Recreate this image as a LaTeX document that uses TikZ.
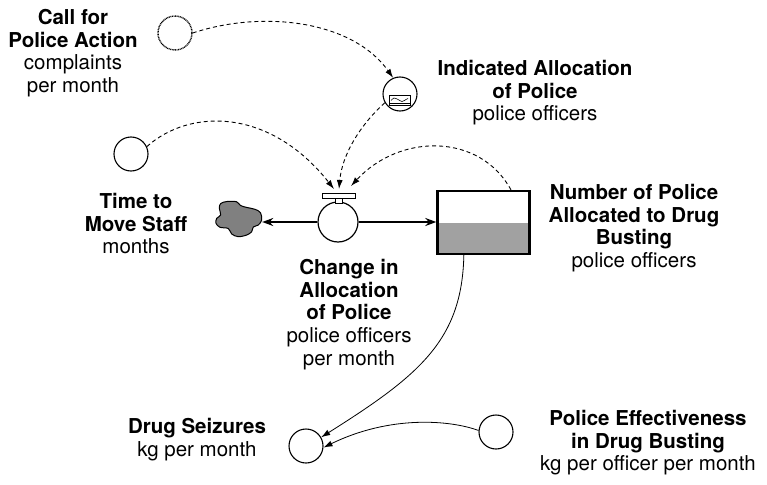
\documentclass[tikz,border=0pt]{standalone}
\usepackage{fontspec}
\setmainfont{TeX Gyre Heros}
\usetikzlibrary{arrows.meta}
\begin{document}
\begin{tikzpicture}[x=1pt,y=-1pt,
  lbl/.style={align=center,anchor=north,inner sep=0pt,font=\fontsize{20.5}{22.7}\selectfont},
  aux/.style={circle,draw,line width=1.1pt,minimum size=34pt,inner sep=0pt},
  infl/.style={dash pattern=on 4pt off 3pt,line width=0.9pt,-{Latex[length=9pt,width=6pt]}},
  link/.style={line width=0.8pt,-{Latex[length=9pt,width=6pt]}},
  flowline/.style={line width=2.6pt,-{Stealth[length=11pt,width=8pt]}}]
\useasboundingbox (0,0) rectangle (767,484);

% auxiliaries and constants
\node (call) [aux,line width=1.4pt,dash pattern=on 0.9pt off 0.7pt] at (175,33) {};
\node (ind) [aux] at (400,94) {};
\node (time) [aux] at (131,154) {};
\node (seiz) [aux] at (306,446) {};
\node (eff) [aux] at (496,432) {};

% graphical function icon inside the indicated allocation
\draw[line width=0.7pt] (389,95) rectangle (410,105);
\draw[line width=0.7pt] (389,103) -- (410,103);
\draw[line width=0.6pt] plot[smooth] coordinates {(391,100.5) (394,98) (398,99.5) (402,101.5) (406,99.5) (408,98.5)};

% stock
\fill[black!37] (438,223) rectangle (529,254);
\node (stock) [draw,line width=2.4pt,minimum width=92pt,minimum height=63pt,inner sep=0pt] at (483.5,222.5) {};

% source cloud
\node (cloud) [minimum width=46pt,minimum height=36pt,inner sep=0pt] at (239,219) {};
\draw[fill=black!50,line width=1pt,line join=round]
  plot[smooth cycle,tension=0.55] coordinates {
    (220.7,203.5) (227,201.5) (236.5,201.7) (240.5,205.5) (247,207.5) (255,209.3)
    (260.5,212.7) (261.7,220) (258.3,225) (253.3,227) (251.7,231.7) (246.7,235)
    (238.3,236.7) (231.7,234) (228.3,228.5) (220,227.3) (216,223.3) (216.7,218.3)
    (220.7,215) (219.3,208.3)};

% valve
\node (valve) [circle,draw,line width=1.2pt,minimum size=40pt,inner sep=0pt] at (338,222) {};
\node (stem) [draw,fill=white,line width=1pt,minimum width=7pt,minimum height=6pt,inner sep=0pt] at (338.5,200) {};
\node (handle) [draw,fill=white,line width=1pt,minimum width=33pt,minimum height=5pt,inner sep=0pt] at (338.5,195.5) {};
\coordinate (tipA) at (334,189);
\coordinate (tipB) at (339,189);
\coordinate (tipC) at (351,186);

% flows
\draw[flowline] (valve.west) -- (cloud.east |- valve.west);
\draw[flowline] (valve.east) -- (stock.west |- valve.east);

% influences
\draw[infl] (call.east) .. controls (262,10) and (352,20) .. (ind.113);
\draw[infl] (time.25) .. controls (190,108) and (270,108) .. (tipA);
\draw[infl] (ind.210) .. controls (360,125) and (342,155) .. (tipB);
\draw[infl] (stock.50) .. controls (480,133) and (400,133) .. (tipC);
\draw[link] (stock.239) .. controls (462,340) and (420,375) .. (seiz.30);
\draw[link] (eff.175) .. controls (450,420) and (390,415) .. (seiz.355);

% labels
\node (lcall) [lbl] at (73,9) {\textbf{Call for}\\\textbf{Police Action}\\complaints\\per month};
\node (lind) [lbl] at (535,60) {\textbf{Indicated Allocation}\\\textbf{of Police}\\police officers};
\node (ltime) [lbl] at (136,193) {\textbf{Time to}\\\textbf{Move Staff}\\months};
\node (lvalve) [lbl] at (349,259) {\textbf{Change in}\\\textbf{Allocation}\\\textbf{of Police}\\police officers\\per month};
\node (lstock) [lbl] at (634,184) {\textbf{Number of Police}\\\textbf{Allocated to Drug}\\\textbf{Busting}\\police officers};
\node (lseiz) [lbl] at (197,418) {\textbf{Drug Seizures}\\kg per month};
\node (leff) [lbl] at (648,410) {\textbf{Police Effectiveness}\\\textbf{in Drug Busting}\\kg per officer per month};
\end{tikzpicture}
\end{document}
